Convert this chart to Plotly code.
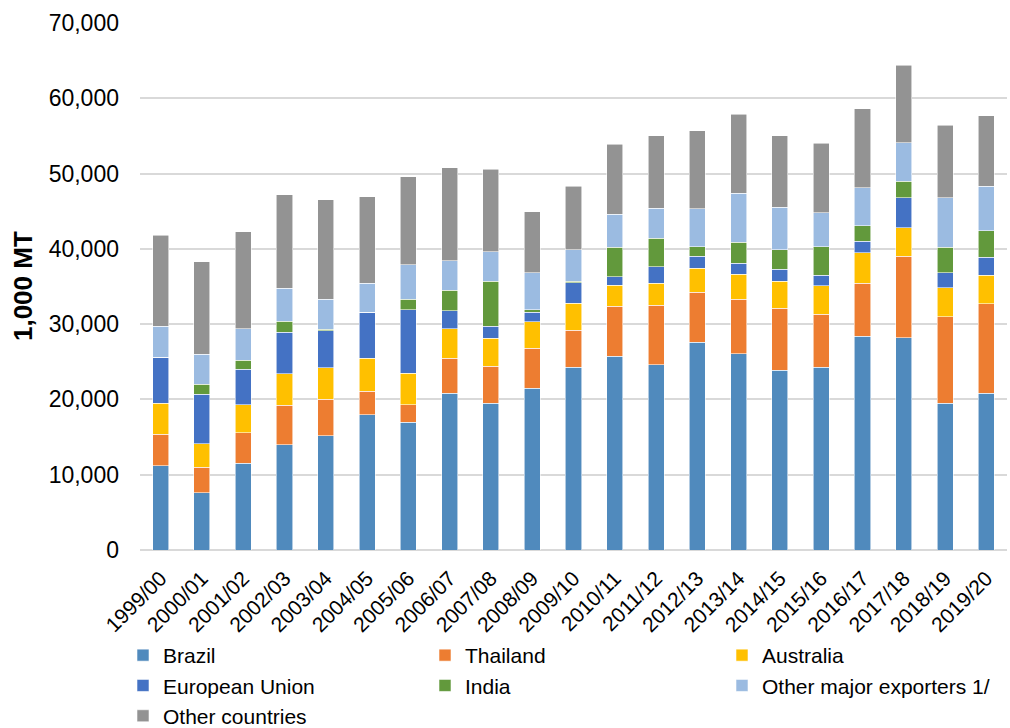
import plotly.graph_objects as go

# Marketing years
years = ["1999/00", "2000/01", "2001/02", "2002/03", "2003/04", "2004/05", "2005/06",
         "2006/07", "2007/08", "2008/09", "2009/10", "2010/11", "2011/12", "2012/13",
         "2013/14", "2014/15", "2015/16", "2016/17", "2017/18", "2018/19", "2019/20"]

# Exports by origin, 1,000 MT
brazil = [11200, 7580, 11500, 14000, 15200, 17950, 17000, 20800, 19500, 21500, 24300,
          25750, 24600, 27600, 26100, 23900, 24300, 28400, 28200, 19500, 20800]
thailand = [4200, 3420, 4100, 5200, 4800, 3150, 2300, 4700, 4900, 5300, 4900,
            6650, 7900, 6650, 7200, 8200, 7000, 7000, 10800, 11500, 11900]
australia = [4100, 3100, 3700, 4200, 4200, 4400, 4200, 3900, 3700, 3500, 3600,
             2750, 2900, 3200, 3300, 3600, 3800, 4100, 3800, 3850, 3800]
european_union = [6100, 6600, 4700, 5500, 4900, 6100, 8400, 2400, 1600, 1300, 2700,
                  1150, 2200, 1550, 1500, 1600, 1400, 1500, 4000, 1950, 2400]
india = [0, 1300, 1200, 1500, 200, 0, 1400, 2700, 6000, 300, 200,
         3900, 3800, 1300, 2800, 2600, 3800, 2100, 2200, 3400, 3500]
other_major = [4100, 4000, 4200, 4400, 4000, 3800, 4600, 3900, 3900, 4900, 4200,
               4400, 4000, 5000, 6500, 5600, 4500, 5000, 5100, 6600, 5900]
other_countries = [12100, 12300, 12900, 12400, 13200, 11500, 11700, 12350, 11000, 8100, 8400,
                   9300, 9600, 10400, 10500, 9500, 9200, 10500, 10300, 9600, 9400]

# (name, values, colour, legend column)
series = [
    ("Brazil", brazil, "#508ABD", "legend"),
    ("Thailand", thailand, "#ED7D31", "legend2"),
    ("Australia", australia, "#FFC000", "legend3"),
    ("European Union", european_union, "#4472C4", "legend"),
    ("India", india, "#62993C", "legend2"),
    ("Other major exporters 1/", other_major, "#9BBBE1", "legend3"),
    ("Other countries", other_countries, "#939393", "legend"),
]

FONT = "Liberation Sans, Arial, sans-serif"

fig = go.Figure()
for name, values, color, leg in series:
    fig.add_trace(go.Bar(
        x=years, y=values, name=name, legend=leg,
        marker=dict(color=color, line=dict(color="rgba(255,255,255,0.7)", width=0.8)),
    ))


def legend_column(x_px):
    return dict(
        orientation="v",
        xref="container", yref="container",
        x=x_px / 1010, y=1 - 635 / 728,
        xanchor="left", yanchor="top",
        font=dict(family=FONT, size=21, color="#000000"),
        traceorder="normal",
        bgcolor="rgba(0,0,0,0)",
    )


fig.update_layout(
    barmode="stack",
    bargap=0.61,
    width=1010, height=728,
    margin=dict(l=140, r=3, t=23, b=178, autoexpand=False),
    paper_bgcolor="white",
    plot_bgcolor="white",
    font=dict(family=FONT, color="#000000"),
    showlegend=True,
    legend=legend_column(123),
    legend2=legend_column(425),
    legend3=legend_column(722),
    xaxis=dict(
        tickangle=-45,
        tickfont=dict(family=FONT, size=21, color="#000000"),
        showgrid=False,
        showline=False,
        ticks="",
        ticklabelstandoff=11,
    ),
    yaxis=dict(
        range=[0, 70000],
        dtick=10000,
        tickformat=",d",
        tickfont=dict(family=FONT, size=23, color="#000000"),
        showgrid=True,
        gridcolor="#D9D9D9",
        gridwidth=1.5,
        zeroline=True,
        zerolinecolor="#D9D9D9",
        zerolinewidth=2,
        showline=False,
        ticks="",
        ticklabelstandoff=20,
    ),
)

# Vertical axis title, set just left of the tick labels
fig.add_annotation(
    text="<b>1,000 MT</b>",
    xref="paper", yref="paper",
    x=-0.1355, y=0.5,
    xanchor="center", yanchor="middle",
    textangle=-90,
    showarrow=False,
    font=dict(family=FONT, size=26, color="#000000"),
)

fig.write_html("out.html")
